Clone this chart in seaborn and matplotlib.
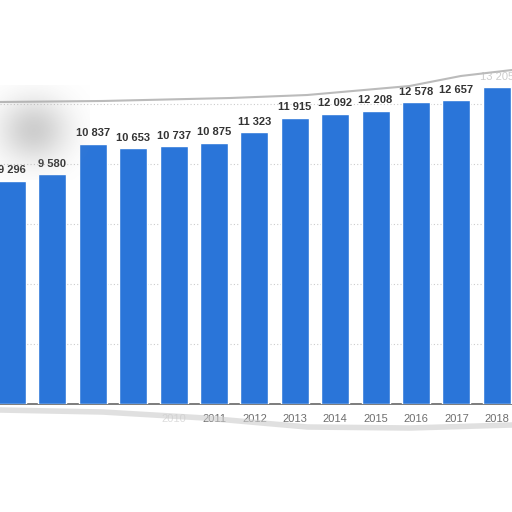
import numpy as np
import pandas as pd
import matplotlib
matplotlib.use("Agg")
import matplotlib.pyplot as plt
import seaborn as sns

years = ["2006", "2007", "2008", "2009", "2010", "2011", "2012",
         "2013", "2014", "2015", "2016", "2017", "2018"]
values = [9296, 9580, 10837, 10653, 10737, 10875, 11323,
          11915, 12092, 12208, 12578, 12657, 13205]

df = pd.DataFrame({"year": years, "value": values})

sns.set_theme(style="white")
plt.rcParams['font.family'] = ['Liberation Sans', 'DejaVu Sans']

fig = plt.figure(figsize=(5.12, 5.12), dpi=100)
ax = fig.add_axes([0, 108 / 512, 1, 344 / 512])

sns.barplot(data=df, x="year", y="value", order=years, color="#2a75d9",
            saturation=1, width=0.69, ax=ax, zorder=3)

ax.set_xlim(-0.297, 12.376)
ax.set_ylim(0, 14333)
ax.set_yticks([2500, 5000, 7500, 10000, 12500])
ax.yaxis.grid(True, linestyle=(0, (1, 2)), color="#cccccc", linewidth=0.8)
ax.set_axisbelow(True)
ax.tick_params(axis="y", left=False, labelleft=False)
ax.set_xlabel("")
ax.set_ylabel("")
for s in ["top", "left", "right"]:
    ax.spines[s].set_visible(False)
ax.spines["bottom"].set_color("#666666")
ax.spines["bottom"].set_linewidth(1.2)

ax.tick_params(axis="x", bottom=False, length=0, pad=7, labelsize=8, labelcolor="#6e6e6e")
for lab in ax.get_xticklabels():
    yr = int(lab.get_text())
    if yr < 2010:
        lab.set_alpha(0)
    elif yr == 2010:
        lab.set_color("#dddddd")

labels = [f"{v:,}".replace(",", " ") for v in values]
texts = ax.bar_label(ax.containers[0], labels=labels, padding=4,
                     fontsize=8, fontweight="bold", color="#333333")
texts[-1].set_color("#cccccc")
texts[-1].set_fontweight("normal")

# soft grey smudge at the upper left
blur_ax = fig.add_axes([0, 1 - 180 / 512, 90 / 512, 95 / 512], zorder=5)
gx, gy = np.meshgrid(np.linspace(-1, 1, 90), np.linspace(-1, 1, 95))
blob = np.zeros((95, 90, 4))
blob[..., :3] = 0.62
blob[..., 3] = 0.5 * np.exp(-((gx + 0.25) ** 2 / 0.6 + (gy + 0.05) ** 2 / 0.45))
blur_ax.imshow(blob, aspect="auto", interpolation="bilinear")
blur_ax.axis("off")

# torn paper edges
top_x = [0, 0.2, 0.45, 0.6, 0.8, 0.9, 1.0]
top_y = [1 - 102 / 512, 1 - 101 / 512, 1 - 98 / 512, 1 - 95 / 512,
         1 - 86 / 512, 1 - 76 / 512, 1 - 70 / 512]
fig.add_artist(plt.Line2D(top_x, top_y, color="#bbbbbb", linewidth=1.5))
bot_x = [0, 0.2, 0.4, 0.6, 0.8, 1.0]
bot_y = [1 - 410 / 512, 1 - 412 / 512, 1 - 418 / 512, 1 - 427 / 512,
         1 - 428 / 512, 1 - 425 / 512]
fig.add_artist(plt.Line2D(bot_x, bot_y, color="#cccccc", linewidth=4, alpha=0.6))

fig.savefig("out.png", dpi=100)
